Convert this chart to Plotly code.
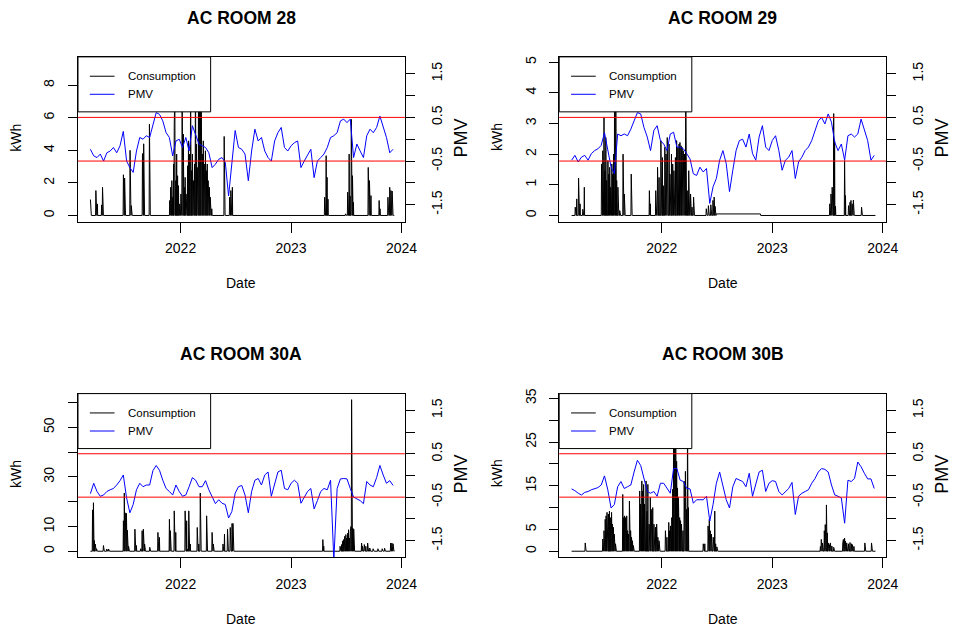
import numpy as np
import pandas as pd
import plotly.graph_objects as go

W, H = 957, 632
FONT = "Liberation Sans, Arial, sans-serif"

# ---------------------------------------------------------------- time base
first_day = pd.Timestamp("2021-03-09")
n_days = 1005
days = pd.date_range(first_day, periods=n_days, freq="D")
pmv_dates = pd.date_range("2021-03-09", "2023-12-04", periods=93)

# ---------------------------------------------------------------- AC ROOM 28
r28_use_day = [0, 18, 23, 37, 40, 109, 113, 131, 135, 172, 176, 195,
               262, 265, 269, 272, 275, 277, 279, 282, 285, 288, 291, 295, 299,
               303, 307, 310, 313, 316, 321, 324, 327, 331, 334, 337, 340, 344,
               347, 350, 353, 357, 360, 363, 366, 370, 373, 376, 380, 383, 386,
               389, 393, 396, 401, 442, 460, 464, 469, 774, 779, 782, 785, 843,
               850, 855, 858, 862, 866, 869, 918, 922, 927, 954, 957, 983, 989,
               993, 997]
r28_use_kwh = [0.98, 1.53, 0.71, 0.65, 1.73, 2.5, 2.3, 4.0, 0.6, 3.8, 4.4, 5.6,
               0.92, 1.73, 2.14, 1.12, 3.16, 5.6, 7.5, 2.14, 3.77, 2.44, 1.83, 0.71, 1.32,
               8.2, 5.0, 1.73, 2.34, 1.32, 3.05, 4.58, 3.77, 8.8, 2.75, 3.77, 2.14, 3.16,
               9.36, 4.38, 2.95, 7.0, 8.5, 9.0, 7.8, 3.77, 4.58, 3.16, 3.97, 2.75, 3.16,
               2.14, 1.73, 1.12, 0.41, 4.85, 1.12, 1.53, 1.73, 1.12, 3.67, 2.34, 1.0, 0.1,
               1.43, 3.77, 1.2, 5.9, 2.44, 0.8, 2.95, 2.14, 1.22, 0.92, 0.41, 1.12, 1.73,
               1.53, 1.5]
r28_standby = None
r28_pmv = [-0.23, -0.38, -0.42, -0.34, -0.50, -0.31, -0.27, -0.19, -0.31, -0.15,
           0.18, -0.50, -0.65, -0.76, -0.27, 0.04, 0.00, 0.08, 0.04, 0.34,
           0.61, 0.57, 0.42, 0.15, 0.04, -0.38, -0.04, 0.00, -0.19, 0.04,
           -0.27, 0.31, 0.08, -0.11, -0.15, -0.19, -0.31, -0.65, -0.57, -0.46,
           -0.42, -0.53, -1.30, -0.50, 0.20, -0.19, -0.23, -0.34, -0.95, -0.27,
           0.23, -0.04, 0.04, -0.27, -0.42, -0.50, -0.04, 0.15, 0.27, -0.19,
           -0.27, -0.15, -0.08, -0.04, -0.65, -0.50, -0.38, -0.23, -0.88, -0.50,
           -0.42, -0.34, -0.19, 0.04, 0.08, 0.15, 0.42, 0.46, 0.38, 0.46,
           -0.42, -0.11, -0.27, -0.42, 0.08, 0.23, 0.15, 0.27, 0.53, 0.27,
           0.04, -0.31, -0.23]

# ---------------------------------------------------------------- AC ROOM 29
r29_use_day = [12, 17, 23, 28, 37, 42, 99, 103, 107, 110, 113, 116, 120, 123, 126,
               129, 133, 136, 139, 142, 146, 149, 153, 159, 170, 174, 197, 257, 260,
               278, 284, 289, 295, 300, 303, 308, 312, 316, 322, 325, 330, 334, 338,
               343, 347, 351, 355, 358, 362, 365, 369, 373, 377, 382, 387, 393, 398,
               403, 445, 452, 460, 467, 471, 474, 853, 857, 861, 866, 869, 872, 902,
               905, 915, 920, 923, 927, 931, 958]
r29_use_kwh = [0.27, 0.54, 1.22, 0.38, 0.2, 0.92, 1.68, 2.11, 3.19, 1.46, 2.54, 1.14,
               1.79, 1.35, 1.57, 0.92, 1.68, 1.35, 2.0, 4.5, 4.2, 1.14, 0.92, 0.16,
               2.0, 0.7, 1.35, 0.81, 0.38, 0.81, 1.57, 1.24, 2.44, 1.89, 0.97, 2.22,
               2.0, 2.54, 2.33, 1.35, 2.0, 1.68, 1.46, 1.89, 2.44, 2.22, 2.33, 2.38,
               2.27, 2.22, 2.11, 2.0, 4.97, 0.81, 1.46, 0.7, 0.27, 0.6, 0.22, 0.32,
               0.35, 0.49, 0.6, 0.3, 0.38, 0.7, 0.92, 3.32, 2.44, 0.3, 1.79, 0.65,
               0.32, 0.43, 0.49, 0.38, 0.5, 0.27]
r29_standby = (478, 624, 0.05)
r29_pmv = [-0.48, -0.37, -0.52, -0.41, -0.37, -0.48, -0.33, -0.26, -0.22, -0.14,
           0.15, -0.26, -0.64, -0.79, 0.12, 0.08, 0.12, 0.08, 0.23, 0.42,
           0.61, 0.58, 0.27, 0.05, -0.26, 0.20, 0.31, -0.03, -0.11, -0.26,
           0.12, 0.16, -0.18, -0.18, -0.22, -0.33, -0.45, -0.79, -0.83, -0.64,
           -0.75, -0.67, -1.47, -1.09, -0.90, -0.48, -0.26, -0.56, -1.20, -0.71,
           -0.26, -0.03, 0.00, -0.18, 0.12, -0.33, -0.48, 0.05, 0.31, -0.18,
           -0.26, -0.03, 0.08, -0.26, -0.71, -0.48, -0.41, -0.26, -0.90, -0.52,
           -0.41, -0.26, -0.18, -0.03, 0.20, 0.42, 0.50, 0.35, 0.58, 0.39,
           -0.07, -0.26, -0.11, -0.48, 0.08, 0.12, 0.05, 0.12, 0.46, 0.20,
           -0.03, -0.48, -0.37]

# ---------------------------------------------------------------- AC ROOM 30A
r30a_use_day = [7, 10, 13, 16, 20, 43, 54, 60, 109, 112, 115, 119, 122, 126, 147,
                152, 166, 171, 175, 179, 196, 223, 228, 261, 264, 277, 282, 313,
                318, 321, 325, 330, 353, 358, 363, 384, 402, 406, 438, 443, 453,
                462, 468, 471, 768, 771, 825, 830, 833, 836, 840, 844, 847, 850,
                853, 856, 859, 861, 863, 867, 870, 896, 899, 905, 910, 916, 923,
                934, 950, 964, 972, 992, 996, 1000]
r30a_use_kwh = [16.7, 19.6, 4.3, 2.9, 1.0, 2.3, 0.9, 0.9, 12.3, 23.5, 15.5, 15.3,
                8.5, 2.0, 8.9, 2.3, 1.0, 8.3, 8.9, 2.9, 1.6, 7.6, 5.6, 12.9, 8.3,
                16.3, 7.6, 16.3, 12.3, 0.9, 16.3, 2.9, 9.6, 2.9, 23.5, 14.3, 7.6,
                2.9, 2.9, 6.9, 8.9, 9.6, 11.2, 11.2, 4.7, 2.0, 2.0, 2.7, 4.0, 4.7,
                6.0, 6.7, 5.3, 7.3, 8.7, 5.3, 8.0, 10.0, 61.2, 9.3, 8.9, 3.3, 2.0,
                2.7, 2.0, 3.3, 1.3, 1.0, 1.0, 1.0, 1.2, 3.3, 3.3, 3.0]
r30a_standby = None
r30a_pmv = [-0.42, -0.18, -0.37, -0.48, -0.45, -0.37, -0.33, -0.30, -0.22, -0.12,
            0.01, -0.52, -0.86, -0.67, -0.33, -0.18, -0.26, -0.22, -0.22, 0.11,
            0.23, 0.12, -0.11, -0.30, -0.37, -0.45, -0.22, -0.37, -0.48, -0.45,
            -0.26, -0.05, -0.11, -0.26, -0.26, -0.12, -0.33, -0.50, -0.65, -0.56,
            -0.64, -0.67, -0.98, -0.83, -0.41, -0.26, -0.23, -0.45, -0.86, -0.37,
            -0.11, -0.07, -0.22, 0.01, 0.08, -0.48, -0.22, 0.08, 0.12, -0.30,
            -0.33, -0.18, -0.11, -0.18, -0.64, -0.50, -0.37, -0.30, -0.77, -0.58,
            -0.37, -0.30, -0.33, -0.11, -1.95, -0.30, -0.08, -0.07, -0.08, -0.30,
            -0.50, -0.54, -0.58, -0.65, -0.14, -0.22, -0.26, -0.05, 0.23, 0.01,
            -0.18, -0.12, -0.23]

# ---------------------------------------------------------------- AC ROOM 30B
r30b_use_day = [45, 103, 107, 111, 114, 117, 122, 125, 128, 132, 135, 138, 141, 145,
                169, 172, 175, 178, 182, 185, 188, 191, 195, 198, 201, 204, 225,
                228, 232, 235, 238, 241, 246, 249, 252, 256, 260, 263, 268, 272,
                277, 281, 285, 289, 310, 315, 321, 324, 327, 331, 334, 337, 340,
                344, 347, 350, 353, 357, 360, 363, 368, 372, 376, 380, 383, 386,
                435, 440, 451, 455, 458, 462, 468, 473, 476, 480, 822, 825, 829,
                835, 838, 842, 845, 848, 852, 855, 860, 866, 896, 898, 902, 905,
                909, 915, 920, 925, 928, 933, 969, 991]
r30b_use_kwh = [1.9, 2.8, 4.7, 7.3, 8.1, 8.9, 8.5, 9.2, 7.7, 8.9, 6.2, 5.5, 3.9, 1.7,
                13.0, 7.7, 8.1, 7.7, 8.1, 4.7, 3.9, 11.5, 4.7, 3.2, 2.4, 1.3, 13.8,
                10.8, 16.1, 13.8, 15.3, 10.8, 16.1, 9.2, 15.3, 6.2, 12.3, 9.6, 10.0,
                6.2, 5.5, 6.2, 3.2, 2.4, 4.7, 3.2, 6.6, 4.7, 5.8, 7.7, 14.2, 30.0,
                34.7, 28.0, 20.6, 14.5, 12.3, 7.7, 7.0, 6.2, 4.7, 16.0, 18.3, 9.6,
                32.0, 10.0, 1.7, 1.7, 5.8, 7.3, 4.7, 3.9, 3.2, 9.2, 1.7, 1.0, 1.1,
                2.7, 1.9, 4.7, 6.1, 10.6, 4.2, 1.9, 1.5, 1.9, 1.2, 0.9, 1.9, 2.7,
                3.0, 2.3, 1.9, 1.7, 2.0, 1.7, 1.5, 1.1, 1.9, 1.9]
r30b_standby = None
r30b_pmv = [-0.31, -0.35, -0.41, -0.45, -0.39, -0.37, -0.33, -0.30, -0.28, -0.22,
            -0.01, -0.33, -0.75, -0.67, -0.26, -0.14, -0.30, -0.26, -0.22, 0.08,
            0.35, 0.23, -0.07, -0.37, -0.41, -0.37, -0.48, -0.18, -0.18, -0.30,
            -0.41, 0.16, 0.16, -0.11, -0.14, -0.30, -0.31, -0.64, -0.56, -0.56,
            -0.56, -0.48, -1.05, -0.67, -0.18, 0.08, -0.26, -0.56, -0.75, -0.26,
            -0.07, -0.11, -0.14, -0.26, 0.05, -0.48, -0.22, 0.08, 0.12, -0.37,
            -0.18, -0.12, -0.14, -0.37, -0.45, -0.37, -0.30, -0.16, -0.90, -0.48,
            -0.41, -0.37, -0.33, -0.18, -0.07, 0.08, 0.16, 0.14, 0.08, -0.22,
            -0.45, -0.48, -0.52, -1.10, -0.11, -0.14, -0.07, 0.31, 0.20, 0.05,
            -0.08, -0.08, -0.30]

rooms = ["AC ROOM 28", "AC ROOM 29", "AC ROOM 30A", "AC ROOM 30B"]
use_days = [r28_use_day, r29_use_day, r30a_use_day, r30b_use_day]
use_kwh = [r28_use_kwh, r29_use_kwh, r30a_use_kwh, r30b_use_kwh]
standby = [r28_standby, r29_standby, r30a_standby, r30b_standby]
pmv = [r28_pmv, r29_pmv, r30a_pmv, r30b_pmv]

kwh_tick_vals = [[0, 2, 4, 6, 8], [0, 1, 2, 3, 4, 5],
                 [0, 10, 20, 30, 40, 50, 60], [0, 5, 10, 15, 20, 25, 30, 35]]
kwh_tick_text = [["0", "2", "4", "6", "8"], ["0", "1", "2", "3", "4", "5"],
                 ["0", "10", "", "30", "", "50", ""],
                 ["0", "5", "", "15", "", "25", "", "35"]]
pmv_tick_vals = [-1.5, -1.0, -0.5, 0.0, 0.5, 1.0, 1.5]
pmv_tick_text = ["-1.5", "", "-0.5", "", "0.5", "", "1.5"]
pmv_limits = [-0.5, 0.5]
pmv_range = [-1.886, 1.886]
year_ticks = ["2022-01-01", "2023-01-01", "2024-01-01"]
year_labels = ["2022", "2023", "2024"]
date_range = ["2021-01-27", "2024-01-12"]

# plot boxes in pixels: (left, top, right, bottom)
boxes = [(79, 52.3, 410, 218.3), (566.3, 52.3, 897.3, 218.3),
         (79, 391.7, 410, 556.7), (566.3, 391.7, 897.3, 556.7)]


def fx(p):
    return p / W


def fy(p):
    return 1 - p / H


def daily_series(day_idx, kwh, stand):
    s = np.zeros(n_days)
    if stand is not None:
        a, b, v = stand
        s[a:b + 1] = v
    s[np.asarray(day_idx)] = kwh
    return s


fig = go.Figure()
shapes, annotations = [], []
tick_font = dict(family=FONT, size=14, color="black")

for k in range(4):
    n = k + 1
    xa = "x" if n == 1 else f"x{n}"
    yl = "y" if n == 1 else f"y{2 * n - 1}"
    yr = f"y{2 * n}"
    xkey = "xaxis" if n == 1 else f"xaxis{n}"
    ylkey = "yaxis" if n == 1 else f"yaxis{2 * n - 1}"
    yrkey = f"yaxis{2 * n}"
    L, T, R, B = boxes[k]

    cons = daily_series(use_days[k], use_kwh[k], standby[k])
    fig.add_trace(go.Scatter(x=days, y=cons, mode="lines", xaxis=xa, yaxis=yl,
                             line=dict(color="black", width=1), showlegend=False,
                             name="Consumption"))
    fig.add_trace(go.Scatter(x=pmv_dates, y=pmv[k], mode="lines", xaxis=xa, yaxis=yr,
                             line=dict(color="#0000ff", width=1), showlegend=False,
                             name="PMV"))

    M = max(use_kwh[k])
    fig.layout[xkey] = dict(
        domain=[fx(L), fx(R)], anchor=yl, type="date", range=date_range,
        tickvals=year_ticks, ticktext=year_labels, ticks="outside", ticklen=10,
        ticklabelstandoff=4,
        tickcolor="black", tickfont=tick_font, showgrid=False, zeroline=False,
        showline=True, mirror=True, linecolor="black", linewidth=1)
    fig.layout[ylkey] = dict(
        domain=[fy(B), fy(T)], anchor=xa, range=[-0.04 * M, 1.04 * M],
        tickvals=kwh_tick_vals[k], ticktext=kwh_tick_text[k], ticks="outside",
        ticklen=9, tickcolor="black", tickangle=-90, tickfont=tick_font,
        ticklabelstandoff=8,
        showgrid=False, zeroline=False, showline=True, mirror=True,
        linecolor="black", linewidth=1)
    fig.layout[yrkey] = dict(
        overlaying=yl, anchor=xa, side="right", range=pmv_range,
        tickvals=pmv_tick_vals, ticktext=pmv_tick_text, ticks="outside",
        ticklen=9, tickcolor="black", tickangle=-90, tickfont=tick_font,
        ticklabelstandoff=10,
        showgrid=False, zeroline=False, showline=False)

    xd = f"{xa} domain"
    yd = f"{yl} domain"
    for lim in pmv_limits:
        shapes.append(dict(type="line", xref=xd, yref=yr, x0=0, x1=1, y0=lim, y1=lim,
                           line=dict(color="red", width=1), layer="above"))

    # legend box
    bw, bh = R - L, B - T
    shapes.append(dict(type="rect", xref=xd, yref=yd, x0=0, x1=134.3 / bw,
                       y0=1 - 55.4 / bh, y1=1, fillcolor="white",
                       line=dict(color="black", width=1), layer="above"))
    for row, (lab, col) in enumerate([("Consumption", "black"), ("PMV", "#0000ff")]):
        yy = 1 - (19.5 + 18.2 * row) / bh
        shapes.append(dict(type="line", xref=xd, yref=yd, x0=12 / bw, x1=37 / bw,
                           y0=yy, y1=yy, line=dict(color=col, width=1), layer="above"))
        annotations.append(dict(xref=xd, yref=yd, x=48.3 / bw, y=yy, text=lab,
                                showarrow=False, xanchor="left", yanchor="middle",
                                font=dict(family=FONT, size=11.5, color="black")))

    cx = (L + R) / 2
    annotations.append(dict(xref="paper", yref="paper", x=fx(cx), y=fy(T - 39.5),
                            text=f"<b>{rooms[k]}</b>", showarrow=False,
                            xanchor="center", yanchor="middle",
                            font=dict(family=FONT, size=17.5, color="black")))
    annotations.append(dict(xref="paper", yref="paper", x=fx(cx), y=fy(B + 62),
                            text="Date", showarrow=False, xanchor="center",
                            yanchor="middle", font=dict(family=FONT, size=14, color="black")))
    cy = (T + B) / 2
    annotations.append(dict(xref="paper", yref="paper", x=fx(L - 62.3), y=fy(cy - 2),
                            text="kWh", showarrow=False, textangle=-90,
                            xanchor="center", yanchor="middle",
                            font=dict(family=FONT, size=14, color="black")))
    annotations.append(dict(xref="paper", yref="paper", x=fx(R + 57), y=fy(cy - 1),
                            text="PMV", showarrow=False, textangle=-90,
                            xanchor="center", yanchor="middle",
                            font=dict(family=FONT, size=18, color="black")))

fig.update_layout(width=W, height=H, margin=dict(l=0, r=0, t=0, b=0),
                  paper_bgcolor="white", plot_bgcolor="white",
                  shapes=shapes, annotations=annotations, showlegend=False)

fig.write_html("out.html")
